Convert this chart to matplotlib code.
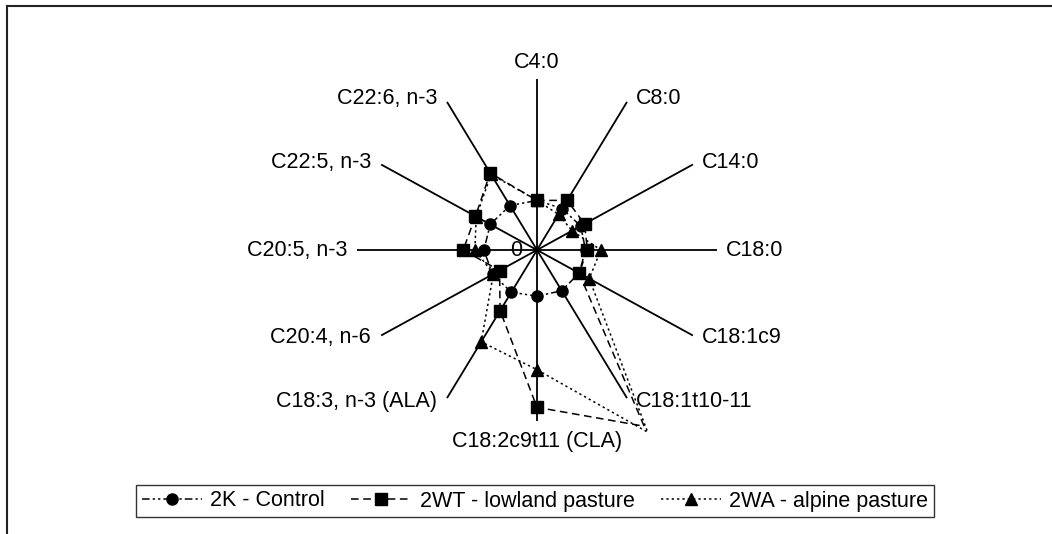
import numpy as np
import matplotlib
matplotlib.use("Agg")
import matplotlib.pyplot as plt
from matplotlib.lines import Line2D

# ---------------- data ----------------
categories = ["C4:0", "C8:0", "C14:0", "C18:0", "C18:1c9", "C18:1t10-11",
              "C18:2c9t11 (CLA)", "C18:3, n-3 (ALA)", "C20:4, n-6",
              "C20:5, n-3", "C22:5, n-3", "C22:6, n-3"]
series_names = ["2K - Control", "2WT - lowland pasture", "2WA - alpine pasture"]
control = [0.29, 0.28, 0.28, 0.27, 0.27, 0.275, 0.27, 0.285, 0.285, 0.295, 0.30, 0.30]
lowland = [0.29, 0.335, 0.305, 0.28, 0.27, 1.19, 0.92, 0.41, 0.24, 0.41, 0.395, 0.52]
alpine = [0.29, 0.24, 0.225, 0.355, 0.335, 1.23, 0.70, 0.62, 0.28, 0.345, 0.39, 0.51]
axis_max = 1.0
axis_min_label = "0"

plt.rcParams["font.family"] = ["Liberation Sans", "DejaVu Sans"]

W, H = 1052, 534
fig = plt.figure(figsize=(W / 100, H / 100), dpi=100)
cx, cy = 537, 250          # centre in pixels (from top-left)
sx, sy = 180, 171          # pixel length of a full axis (x / y)
ax = fig.add_axes([0, 0, 1, 1])
ax.set_xlim(-cx / sx * axis_max, (W - cx) / sx * axis_max)
ax.set_ylim(-(H - cy) / sy * axis_max, cy / sy * axis_max)
ax.axis("off")

n = len(categories)
angles = np.arange(n) * 2 * np.pi / n
ux, uy = np.sin(angles), np.cos(angles)
FS = 15.5

# spokes + labels
for i, lab in enumerate(categories):
    ax.plot([0, ux[i] * axis_max], [0, uy[i] * axis_max], color="black", lw=1.3,
            solid_capstyle="butt", zorder=1)
    a = angles[i]
    if np.isclose(a, 0):
        off, ha, va = (0, 11), "center", "baseline"
    elif np.isclose(a, np.pi):
        off, ha, va = (0, -10), "center", "top"
    elif a < np.pi:
        off, ha, va = (9, 4.5 * np.cos(a)), "left", "center"
    else:
        off, ha, va = (-10, 4.5 * np.cos(a)), "right", "center"
    ax.annotate(lab, (ux[i] * axis_max, uy[i] * axis_max), xytext=off,
                textcoords="offset pixels", ha=ha, va=va, fontsize=FS, color="black")

ax.annotate(axis_min_label, (0, 0), xytext=(-15, 0), textcoords="offset pixels",
            ha="right", va="center", fontsize=FS, color="black")

styles = [
    dict(marker="o", ls=(0, (5, 2, 1.5, 2, 1.5, 2))),
    dict(marker="s", ls=(0, (5, 3))),
    dict(marker="^", ls=(0, (1.5, 2))),
]
handles = []
for name, vals, st in zip(series_names, [control, lowland, alpine], styles):
    v = np.array(vals + vals[:1])
    xs = v * np.append(ux, ux[0])
    ys = v * np.append(uy, uy[0])
    mk = [i for i in range(n) if vals[i] <= axis_max]
    ln, = ax.plot(xs, ys, color="black", lw=1.1, linestyle=st["ls"], marker=st["marker"],
                  markersize=8, markerfacecolor="black", markeredgecolor="black",
                  markevery=mk, label=name, zorder=3, clip_on=False)
    handles.append(ln)

leg = fig.legend(handles=handles, loc="center", bbox_to_anchor=(535 / W, 1 - 501 / H),
                 ncol=3, fontsize=FS, frameon=True, fancybox=False, edgecolor="black",
                 handlelength=2.8, handletextpad=0.4, columnspacing=1.2, numpoints=1,
                 borderpad=0.25, borderaxespad=0)
leg.get_frame().set_linewidth(1.0)
for h in leg.legend_handles:
    h.set_markevery([1])

# outer border (top & left visible)
fig.add_artist(Line2D([7 / W, 7 / W], [0, 1 - 6 / H], transform=fig.transFigure,
                      color="#222222", lw=1.5))
fig.add_artist(Line2D([7 / W, 1], [1 - 6 / H, 1 - 6 / H], transform=fig.transFigure,
                      color="#222222", lw=1.5))

fig.savefig("out.png", dpi=100, facecolor="white")
